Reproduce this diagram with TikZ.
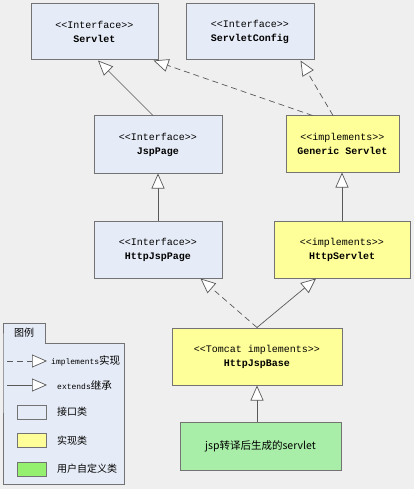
\documentclass[tikz,border=0pt]{standalone}
\usepackage{fontspec}
\setmainfont{Liberation Sans}
\setmonofont{Liberation Mono}
\newfontfamily\cjk{Noto Sans CJK SC}
\usetikzlibrary{arrows.meta}
\definecolor{bgcol}{RGB}{239,239,239}
\definecolor{ifacecol}{RGB}{230,236,247}
\definecolor{implcol}{RGB}{255,255,153}
\definecolor{usercol}{RGB}{168,238,168}
\definecolor{legusercol}{RGB}{148,240,110}
\definecolor{edgecol}{RGB}{115,115,115}
\tikzset{
  classbox/.style={draw=edgecol,line width=1pt,align=center,inner sep=0pt,
    font=\ttfamily\fontsize{10}{14}\selectfont},
  ifacebox/.style={classbox,fill=ifacecol},
  implbox/.style={classbox,fill=implcol},
  userbox/.style={classbox,fill=usercol,font=\cjk\fontsize{10.5}{13}\selectfont},
  extendsarrow/.style={draw=black!65,line width=0.7pt,
    -{Triangle[length=15pt,width=13pt,fill=white]}},
  implarrow/.style={extendsarrow,dash pattern=on 6pt off 4pt},
  legtext/.style={anchor=west,inner sep=0pt},
}
\begin{document}
\begin{tikzpicture}[x=1pt,y=-1pt]
	\fill[bgcol] (0,0) rectangle (414,489);
	% classes
	\node[ifacebox,minimum width=127pt,minimum height=56pt] (servlet) at (94.5,32) {<<Interface>>\\\textbf{Servlet}};
	\node[ifacebox,minimum width=128pt,minimum height=56pt] (servletconfig) at (250,32) {<<Interface>>\\\textbf{ServletConfig}};
	\node[ifacebox,minimum width=128pt,minimum height=57pt] (jsppage) at (158,144.5) {<<Interface>>\\\textbf{JspPage}};
	\node[implbox,minimum width=113pt,minimum height=56pt] (genericservlet) at (342.5,144) {<<implements>>\\\textbf{Generic Servlet}};
	\node[ifacebox,minimum width=128pt,minimum height=57pt] (httpjsppage) at (158,249.5) {<<Interface>>\\\textbf{HttpJspPage}};
	\node[implbox,minimum width=136pt,minimum height=57pt] (httpservlet) at (342,249.5) {<<implements>>\\\textbf{HttpServlet}};
	\node[implbox,minimum width=170pt,minimum height=57pt] (httpjspbase) at (257,356.5) {<<Tomcat implements>>\\\textbf{HttpJspBase}};
	\node[userbox,minimum width=161pt,minimum height=48pt] (jspservlet) at (260.5,446) {jsp转译后生成的servlet};
	% relations
	\draw[extendsarrow] ([xshift=-5pt]jsppage.north) -- ([xshift=3.5pt]servlet.south);
	\draw[implarrow] ([xshift=27pt]genericservlet.north west) -- ([xshift=-5pt]servlet.south east);
	\draw[implarrow] ([xshift=-9.5pt]genericservlet.north) -- ([xshift=-14pt]servletconfig.south east);
	\draw[extendsarrow] (httpjsppage.north) -- (jsppage.south);
	\draw[extendsarrow] (httpservlet.north) -- (httpservlet.north |- genericservlet.south);
	\draw[implarrow] (httpjspbase.north) -- ([xshift=-22pt]httpjsppage.south east);
	\draw[extendsarrow] (httpjspbase.north) -- ([xshift=-26pt]httpservlet.south);
	\draw[extendsarrow] (httpjspbase.south |- jspservlet.north) -- (httpjspbase.south);
	% legend
	\draw[draw=edgecol,fill=ifacecol,line width=1pt] (3,343) -- (3,323) -- (45,323) -- (45,343) -- (124,343) -- (124,484) -- (3,484) -- cycle;
	\node[inner sep=0pt,font=\cjk\fontsize{10}{12}\selectfont] (legtitle) at (24,333) {图例};
	\coordinate (implA) at (7,361);
	\coordinate (implB) at (47,361);
	\coordinate (extA) at (7,385);
	\coordinate (extB) at (47,385);
	\draw[implarrow] (implA) -- (implB);
	\draw[extendsarrow] (extA) -- (extB);
	\node[legtext] (implname) at (51,361) {{\ttfamily\fontsize{8}{9}\selectfont implements}{\cjk\fontsize{10.5}{12}\selectfont 实现}};
	\node[legtext] (extname) at (57,385) {{\ttfamily\fontsize{8}{9}\selectfont extends}{\cjk\fontsize{10.5}{12}\selectfont 继承}};
	\foreach \c/\t/\y [count=\i] in {ifacecol/接口类/412, implcol/实现类/440.5, legusercol/用户自定义类/469} {
		\draw[draw=edgecol,fill=\c,line width=1pt] (17,\y-7) rectangle (46,\y+7);
		\node[legtext,font=\cjk\fontsize{10}{12}\selectfont] (legkind\i) at (57,\y) {\t};
	}
\end{tikzpicture}
\end{document}
